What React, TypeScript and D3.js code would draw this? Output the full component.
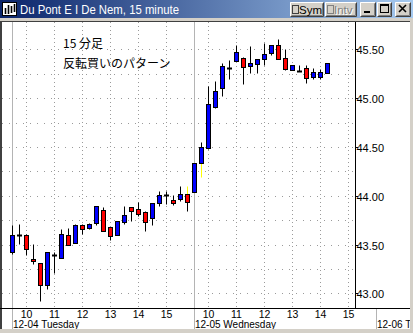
import React from 'react';
import * as d3 from 'd3';

// ---- data (15-minute bars; day 1 = 12-04 09:30..15:45, day 2 = 12-05 09:30..14:15) ----
const opens = [
  43.42, 43.60, 43.60, 43.35, 43.31, 43.08, 43.395, 43.365, 43.60, 43.52, 43.695, 43.665, 43.725,
  43.855, 43.675, 43.60, 43.735, 43.88, 43.86, 43.83, 43.77, 43.93, 44.005, 43.955, 43.97, 44.015,
  44.04, 44.34, 44.49, 44.91, 45.105, 45.31, 45.385, 45.41, 45.325, 45.345, 45.40, 45.46, 45.545,
  45.41, 45.29, 45.28, 45.305, 45.22, 45.22, 45.26,
];
const highs = [
  43.70, 43.71, 43.61, 43.505, 43.31, 43.42, 43.42, 43.66, 43.665, 43.705, 43.715, 43.725, 43.895,
  43.88, 43.675, 43.74, 43.895, 43.88, 43.935, 43.84, 43.93, 44.05, 44.05, 44.005, 44.10, 44.10,
  44.34, 44.55, 45.125, 45.175, 45.355, 45.39, 45.545, 45.42, 45.535, 45.40, 45.56, 45.545, 45.605,
  45.50, 45.34, 45.335, 45.34, 45.305, 45.30, 45.36,
];
const lows = [
  43.40, 43.505, 43.39, 43.30, 42.925, 43.045, 43.21, 43.365, 43.50, 43.52, 43.605, 43.655, 43.70,
  43.64, 43.545, 43.60, 43.71, 43.745, 43.79, 43.64, 43.695, 43.89, 43.92, 43.90, 43.95, 43.845,
  44.04, 44.195, 44.48, 44.90, 45.025, 45.20, 45.385, 45.14, 45.255, 45.255, 45.34, 45.445, 45.40,
  45.29, 45.29, 45.28, 45.15, 45.195, 45.195, 45.26,
];
const closes = [
  43.60, 43.60, 43.45, 43.33, 43.08, 43.42, 43.395, 43.61, 43.50, 43.70, 43.655, 43.715, 43.895,
  43.64, 43.59, 43.74, 43.80, 43.845, 43.81, 43.735, 43.93, 44.005, 44.005, 43.93, 44.015, 43.94,
  44.34, 44.495, 44.94, 45.075, 45.33, 45.31, 45.47, 45.315, 45.355, 45.40, 45.45, 45.545, 45.40,
  45.30, 45.34, 45.28, 45.21, 45.27, 45.27, 45.36,
];
const yellowUpper = [25];
const yellowLower = [27];

const priceTicks = [43.0, 43.5, 44.0, 44.5, 45.0, 45.5];
const gridPrices = [43.0, 43.25, 43.5, 43.75, 44.0, 44.25, 44.5, 44.75, 45.0, 45.25, 45.5];
const hourLabels = ['10', '11', '12', '13', '14', '15'];
const dayLabels = ['12-04 Tuesday', '12-05 Wednesday', '12-06 Thursday'];
const title = 'Du Pont E I De Nem, 15 minute';
const notes = ['15 分足', '反転買いのパターン'];

const W = 413;
const H = 333;
const BARS_PER_DAY = 26;

const plotTop = 22;
const plotBottom = 308;
const plotLeft = 2;
const axisX = 355;
const clientRight = 410;
const clientBottom = 329;

const x = d3.scaleLinear().domain([0, 52]).range([12.3, 376.3]);
const y = d3.scaleLinear().domain([43, 45.5]).range([293.3, 49.3]);
const px = (i: number) => Math.round(x(i)) + 0.5;
const py = (p: number) => Math.round(y(p)) + 0.5;

const face = '#D4D0C8';

function Button({ bx, by, w, h, children }: any) {
  return (
    <g>
      <rect x={bx} y={by} width={w} height={h} fill={face} />
      <path d={`M${bx + 0.5},${by + h - 0.5} V${by + 0.5} H${bx + w - 0.5}`} stroke="#fff" fill="none" />
      <path d={`M${bx + 0.5},${by + h - 0.5} H${bx + w - 0.5} V${by + 0.5}`} stroke="#404040" fill="none" />
      <path d={`M${bx + 1.5},${by + h - 1.5} H${bx + w - 1.5} V${by + 1.5}`} stroke="#808080" fill="none" />
      {children}
    </g>
  );
}

export default function App() {
  const idx = d3.range(opens.length);
  const fontUI = 'Liberation Sans, Arial, sans-serif';
  const hourTicks: { slot: number; label: string }[] = [];
  [0, 1].forEach((d) => {
    hourLabels.forEach((lab) => {
      const h = +lab;
      hourTicks.push({ slot: d * BARS_PER_DAY + (h - 9.5) * 4, label: lab });
    });
  });
  const daySlots = dayLabels.map((_, d) => d * BARS_PER_DAY);

  return (
    <svg width={W} height={H} style={{ position: 'fixed', left: 0, top: 0 }} xmlns="http://www.w3.org/2000/svg">
      <defs>
        <linearGradient id="tb" x1="0" x2="1" y1="0" y2="0">
          <stop offset="0" stopColor="#0A246A" />
          <stop offset="1" stopColor="#A6CAF0" />
        </linearGradient>
        <clipPath id="clientClip">
          <rect x={plotLeft} y={plotTop} width={clientRight - plotLeft} height={clientBottom - plotTop} />
        </clipPath>
        <clipPath id="plotClip">
          <rect x={plotLeft} y={plotTop} width={axisX - plotLeft} height={plotBottom - plotTop} />
        </clipPath>
      </defs>

      {/* window frame */}
      <rect x={0} y={0} width={W} height={H} fill={face} />
      <rect x={0} y={0} width={W} height={18} fill="url(#tb)" />
      {/* icon */}
      <rect x={2.5} y={2.5} width={14} height={13} fill="#fff" stroke="#000" />
      <path d="M5.5,14 V8 M8.5,14 V5 M11.5,13 V6 M14.5,12 V4" stroke="#000" strokeWidth={1.6} />
      <text x={20} y={14} fill="#fff" fontFamily={fontUI} fontSize={12.5} textLength={159} lengthAdjust="spacingAndGlyphs">
        {title}
      </text>

      <Button bx={290} by={2} w={34} h={15}>
        <rect x={292.5} y={5.5} width={6} height={8} fill={face} stroke="#404040" />
        <text x={299} y={14} fontFamily={fontUI} fontSize={11.5} fill="#000">Sym</text>
      </Button>
      <Button bx={325} by={2} w={32} h={15}>
        <rect x={327.5} y={5.5} width={6} height={8} fill={face} stroke="#808080" />
        <text x={335} y={15} fontFamily={fontUI} fontSize={11.5} fill="#fff">Intv</text>
        <text x={334} y={14} fontFamily={fontUI} fontSize={11.5} fill="#808080">Intv</text>
      </Button>
      <Button bx={360} by={2} w={16} h={15}>
        <rect x={364} y={11} width={6} height={2} fill="#000" />
      </Button>
      <Button bx={377} by={2} w={15} h={15}>
        <rect x={380.5} y={4.5} width={8} height={8} fill="none" stroke="#000" />
        <rect x={380} y={4} width={9} height={2} fill="#000" />
      </Button>
      <Button bx={395} by={2} w={16} h={15}>
        <path d="M399,5 L406,12 M406,5 L399,12" stroke="#000" strokeWidth={1.6} />
      </Button>

      {/* client area */}
      <rect x={plotLeft} y={plotTop} width={clientRight - plotLeft} height={clientBottom - plotTop} fill="#fff" />
      <rect x={0} y={21} width={clientRight} height={1} fill="#404040" />
      <rect x={0} y={21} width={2} height={clientBottom - 21} fill="#404040" />

      <g clipPath="url(#plotClip)">
        {gridPrices.map((p) => (
          <line key={p} x1={plotLeft} x2={axisX} y1={py(p)} y2={py(p)} stroke="#9a9a9a" strokeDasharray="1,6" />
        ))}
        {hourTicks.map((t) => (
          <line key={'v' + t.slot} x1={px(t.slot)} x2={px(t.slot)} y1={plotTop} y2={plotBottom} stroke="#9a9a9a" strokeDasharray="1,3" />
        ))}
      </g>
      <g clipPath="url(#clientClip)">
        {daySlots.map((s) => (
          <line key={'d' + s} x1={px(s)} x2={px(s)} y1={px(s) < axisX ? plotTop : plotBottom} y2={clientBottom} stroke="#b4b4b4" />
        ))}
      </g>

      {/* candles */}
      <g clipPath="url(#plotClip)">
        {idx.map((i) => {
          const cx = px(i);
          const o = opens[i], c = closes[i], hi = highs[i], lo = lows[i];
          const top = py(Math.max(o, c));
          const bot = py(Math.min(o, c));
          const up = yellowUpper.includes(i);
          const dn = yellowLower.includes(i);
          return (
            <g key={i}>
              <line x1={cx} x2={cx} y1={py(hi)} y2={top} stroke={up ? '#FFFF00' : '#000'} />
              <line x1={cx} x2={cx} y1={bot} y2={py(lo)} stroke={dn ? '#FFFF00' : '#000'} />
              {bot - top < 1 ? (
                <line x1={cx - 2.5} x2={cx + 2.5} y1={top} y2={top} stroke="#000" strokeWidth={2} />
              ) : (
                <rect x={cx - 2} y={top} width={4} height={bot - top} fill={c > o ? '#0000FF' : '#FF0000'} stroke="#000" />
              )}
            </g>
          );
        })}
      </g>

      {/* notes */}
      <text x={63} y={48} fontFamily="Noto Sans CJK JP" fontSize={12} fill="#000">{notes[0]}</text>
      <text x={63} y={68} fontFamily="Noto Sans CJK JP" fontSize={12} fill="#000">{notes[1]}</text>

      {/* axes */}
      <line x1={axisX + 0.5} x2={axisX + 0.5} y1={plotTop} y2={plotBottom} stroke="#000" />
      <line x1={0} x2={clientRight} y1={plotBottom + 0.5} y2={plotBottom + 0.5} stroke="#000" />
      {priceTicks.map((p) => (
        <g key={'p' + p}>
          <line x1={axisX} x2={axisX + 3} y1={py(p)} y2={py(p)} stroke="#000" />
          <text x={356.5} y={py(p) + 4} fontFamily={fontUI} fontSize={11} fill="#000">{d3.format('.2f')(p)}</text>
        </g>
      ))}
      {hourTicks.map((t) => (
        <text key={'h' + t.slot} x={px(t.slot)} y={318} textAnchor="middle" fontFamily={fontUI} fontSize={10.5} fill="#000">
          {t.label}
        </text>
      ))}
      <g clipPath="url(#clientClip)">
        {dayLabels.map((lab, d) => (
          <text key={lab} x={px(daySlots[d]) + 0.5} y={327.5} fontFamily={fontUI} fontSize={10} fill="#000">
            {lab}
          </text>
        ))}
      </g>
    </svg>
  );
}
